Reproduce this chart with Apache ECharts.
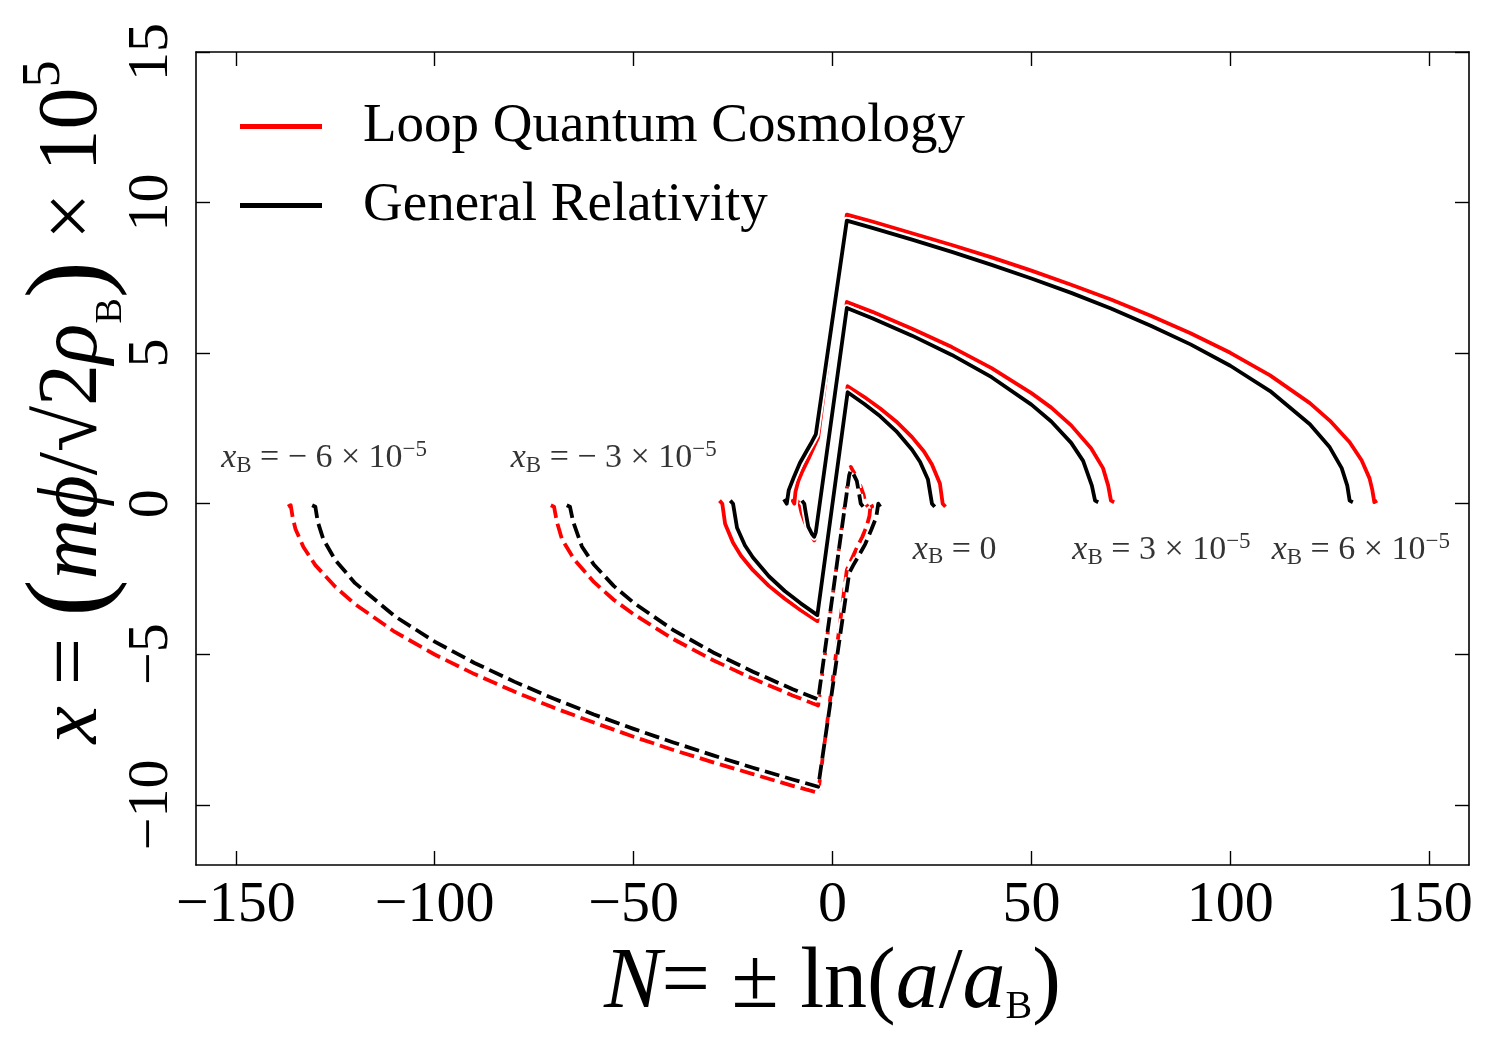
<!DOCTYPE html>
<html>
<head>
<meta charset="utf-8">
<title>LQC vs GR trajectories</title>
<script src="https://cdn.jsdelivr.net/npm/echarts@6/dist/echarts.min.js"></script>
<style>
  html, body { margin: 0; padding: 0; background: #fff; }
  #chart { width: 1500px; height: 1050px; }
</style>
</head>
<body>
<div id="chart"></div>
<script>
// tick values
var xTicks = [-150, -100, -50, 0, 50, 100, 150];
var yTicks = [-10, -5, 0, 5, 10, 15];

// curves, [N, x*1e5]
// xB = -6e-5 (dashed)
var lqcM6 = [[-136.9, -0.1], [-136.2, -0.05], [-135.7, -0.45], [-135, -0.84], [-133, -1.44], [-130, -2.04], [-125, -2.76], [-120, -3.34], [-110, -4.26], [-100, -5.01], [-90, -5.66], [-80, -6.24], [-70, -6.78], [-60, -7.27], [-50, -7.74], [-40, -8.18], [-30, -8.59], [-20, -8.98], [-10, -9.37], [-3.6, -9.6], [3.6, -2.2], [4.8, -1.85], [6, -1.5], [7.5, -1.1], [8.6, -0.75], [9.3, -0.4], [9.6, 0], [10.2, -0.15]];
var grM6 = [[-130.8, -0.05], [-130, -0.1], [-129.4, -0.6], [-128, -1.18], [-125, -1.87], [-120, -2.64], [-110, -3.74], [-100, -4.58], [-90, -5.29], [-80, -5.91], [-70, -6.48], [-60, -7.0], [-50, -7.48], [-40, -7.93], [-30, -8.36], [-20, -8.77], [-10, -9.16], [-3.6, -9.4], [4.2, -2.3], [5.2, -2.05], [6.5, -1.75], [8.2, -1.35], [9.8, -0.85], [11, -0.45], [11.5, 0], [12.2, -0.15]];
// xB = -3e-5 (dashed)
var lqcM3 = [[-70.8, -0.05], [-70, -0.1], [-69.3, -0.6], [-68, -1.18], [-65, -1.84], [-60, -2.6], [-55, -3.19], [-50, -3.67], [-40, -4.5], [-30, -5.2], [-20, -5.81], [-10, -6.37], [-3.6, -6.7], [4.2, 1.1], [4.6, 1.22], [5.2, 1.08], [6, 0.9], [7, 0.6], [7.8, 0.3], [8.3, 0], [8.9, -0.1]];
var grM3 = [[-66.8, -0.05], [-66, -0.1], [-65.2, -0.6], [-63, -1.42], [-60, -2.02], [-55, -2.73], [-50, -3.29], [-40, -4.2], [-30, -4.94], [-20, -5.58], [-10, -6.16], [-3.6, -6.5], [4.2, 0.95], [4.6, 1.1], [5.2, 1.0], [6.1, 0.76], [6.7, 0.32], [7.1, 0], [7.7, -0.1]];
// xB = 0 (solid)
var lqc0 = [[-28.4, 0.1], [-27.7, 0], [-27, -0.67], [-25, -1.3], [-23, -1.73], [-20, -2.21], [-16, -2.73], [-12, -3.16], [-8, -3.54], [-3.8, -3.9], [3.8, 3.9], [8, 3.54], [12, 3.16], [16, 2.73], [20, 2.21], [23, 1.73], [25, 1.3], [27, 0.67], [27.7, 0], [28.4, -0.1]];
var gr0 = [[-25.7, 0.1], [-25, 0], [-24, -0.8], [-22, -1.39], [-20, -1.79], [-16, -2.41], [-12, -2.9], [-8, -3.31], [-3.8, -3.7], [3.8, 3.7], [8, 3.31], [12, 2.9], [16, 2.41], [20, 1.79], [22, 1.39], [24, 0.8], [25, 0], [25.7, -0.1]];
// xB = 3e-5 (solid)
var lqcP3 = [[-8.9, 0.1], [-8.3, 0], [-7.8, -0.3], [-7, -0.6], [-6, -0.9], [-5.2, -1.08], [-4.6, -1.22], [-4.2, -1.1], [3.6, 6.7], [10, 6.37], [20, 5.81], [30, 5.2], [40, 4.5], [50, 3.67], [55, 3.19], [60, 2.6], [65, 1.84], [68, 1.18], [69.3, 0.6], [70, 0.1], [70.8, 0.05]];
var grP3 = [[-7.7, 0.1], [-7.1, 0], [-6.7, -0.32], [-6.1, -0.76], [-5.2, -1.0], [-4.6, -1.1], [-4.2, -0.95], [3.6, 6.5], [10, 6.16], [20, 5.58], [30, 4.94], [40, 4.2], [50, 3.29], [55, 2.73], [60, 2.02], [63, 1.42], [65.2, 0.6], [66, 0.1], [66.8, 0.05]];
// xB = 6e-5 (solid)
var lqcP6 = [[-10.2, 0.15], [-9.6, 0], [-9.3, 0.4], [-8.6, 0.75], [-7.5, 1.1], [-6, 1.5], [-4.8, 1.85], [-3.6, 2.2], [3.6, 9.6], [10, 9.37], [20, 8.98], [30, 8.59], [40, 8.18], [50, 7.74], [60, 7.27], [70, 6.78], [80, 6.24], [90, 5.66], [100, 5.01], [110, 4.26], [120, 3.34], [125, 2.76], [130, 2.04], [133, 1.44], [135, 0.84], [135.7, 0.45], [136.2, 0.05], [136.9, 0.1]];
var grP6 = [[-12.2, 0.15], [-11.5, 0], [-11, 0.45], [-9.8, 0.85], [-8.2, 1.35], [-6.5, 1.75], [-5.2, 2.05], [-4.2, 2.3], [3.6, 9.4], [10, 9.16], [20, 8.77], [30, 8.36], [40, 7.93], [50, 7.48], [60, 7.0], [70, 6.48], [80, 5.91], [90, 5.29], [100, 4.58], [110, 3.74], [120, 2.64], [125, 1.87], [128, 1.18], [129.4, 0.6], [130, 0.1], [130.8, 0.05]];

// annotation labels and where they sit (data coords)
var annotPos = [[-127.8, 1.52], [-55, 1.52], [30.7, -1.54], [82.7, -1.54], [132.8, -1.54]];
var annotText = [
  '{i|x}{s|B} = − 6 × 10{p|−5}',
  '{i|x}{s|B} = − 3 × 10{p|−5}',
  '{i|x}{s|B} = 0',
  '{i|x}{s|B} = 3 × 10{p|−5}',
  '{i|x}{s|B} = 6 × 10{p|−5}'
];

var LQC = 'Loop Quantum Cosmology';
var GR = 'General Relativity';
var FONT = '"Liberation Serif", "DejaVu Serif", serif';
var DASH = [15, 6];

var chart = echarts.init(document.getElementById('chart'));

// each line gets a white halo drawn just before it
function lineSeries(name, data, color, width, dashed) {
  return {
    name: name,
    type: 'line',
    data: data,
    color: color,
    symbol: 'none',
    silent: true,
    animation: false,
    lineStyle: { color: color, width: width, type: dashed ? DASH : 'solid', cap: 'butt', join: 'round' },
    emphasis: { disabled: true }
  };
}

var curves = [
  [lqcM6, grM6, true],
  [lqcM3, grM3, true],
  [lqc0, gr0, false],
  [lqcP3, grP3, false],
  [lqcP6, grP6, false]
];

var series = [];
curves.forEach(function (c) {
  series.push(lineSeries('halo', c[0], '#ffffff', 7.5, c[2]));
  series.push(lineSeries(LQC, c[0], '#ff0000', 3.8, c[2]));
  series.push(lineSeries('halo', c[1], '#ffffff', 7.5, c[2]));
  series.push(lineSeries(GR, c[1], '#000000', 3.8, c[2]));
});

// annotations as label-only scatter
var noStroke = { textBorderWidth: 0, textBorderColor: 'transparent', color: '#000' };
series.push({
  name: 'annot',
  type: 'scatter',
  symbolSize: 0,
  silent: true,
  animation: false,
  data: annotPos.map(function (p, i) { return [p[0], p[1], annotText[i]]; }),
  label: {
    show: true,
    position: 'inside',
    formatter: function (p) { return p.data[2]; },
    color: '#000',
    textBorderWidth: 0,
    textBorderColor: 'transparent',
    fontFamily: FONT,
    fontSize: 34,
    rich: {
      i: Object.assign({ fontFamily: FONT, fontSize: 34, fontStyle: 'italic' }, noStroke),
      s: Object.assign({ fontFamily: FONT, fontSize: 23, verticalAlign: 'bottom', padding: [14, 0, 0, 0] }, noStroke),
      p: Object.assign({ fontFamily: FONT, fontSize: 23, verticalAlign: 'top', padding: [0, 0, 16, 0] }, noStroke)
    }
  }
});

function frameAxis(pos, isY, showLabel) {
  var ticks = isY ? yTicks : xTicks;
  return {
    type: 'value',
    position: pos,
    min: isY ? -12 : -160,
    max: isY ? 15 : 160,
    splitLine: { show: false },
    axisLine: { show: true, onZero: false, lineStyle: { color: '#000', width: 1.6 } },
    axisTick: { show: true, inside: true, length: 14, customValues: ticks, lineStyle: { color: '#000', width: 1.4 } },
    axisLabel: {
      show: showLabel,
      customValues: ticks,
      formatter: function (v) { return String(v).replace('-', '\u2212'); },
      color: '#000',
      fontFamily: FONT,
      fontSize: 58,
      margin: isY ? 15 : 12,
      rotate: isY ? 90 : 0
    }
  };
}

var xBottom = frameAxis('bottom', false, true);
xBottom.name = '{i|N}= ± ln({i|a}/{i|a}{s|B})';
xBottom.nameLocation = 'middle';
xBottom.nameGap = 76;
xBottom.nameTextStyle = {
  color: '#000', fontFamily: FONT, fontSize: 86,
  rich: {
    i: { fontFamily: FONT, fontSize: 86, fontStyle: 'italic', color: '#000' },
    s: { fontFamily: FONT, fontSize: 40, color: '#000', verticalAlign: 'bottom', padding: [36, 0, 0, 0] }
  }
};

var option = {
  backgroundColor: '#fff',
  animation: false,
  grid: { left: 196, right: 31, top: 52, bottom: 185, containLabel: false },
  legend: {
    data: [LQC, GR],
    orient: 'vertical',
    left: 235,
    top: 94,
    icon: 'rect',
    itemWidth: 82,
    itemHeight: 5,
    itemGap: 24,
    selectedMode: false,
    textStyle: { color: '#000', fontFamily: FONT, fontSize: 55, lineHeight: 54, padding: [0, 0, 0, 36] }
  },
  xAxis: [xBottom, frameAxis('top', false, false)],
  yAxis: [frameAxis('left', true, true), frameAxis('right', true, false)],
  series: series,
  graphic: [{
    type: 'text',
    x: 74,
    y: 402,
    rotation: Math.PI / 2,
    silent: true,
    style: {
      text: '{i|x} = {b|(}{i|mϕ}/√{n|2}{i|ρ}{s|B}{b|)} × 10{p|5}',
      fontFamily: FONT,
      fontSize: 84,
      fill: '#000',
      align: 'center',
      verticalAlign: 'middle',
      rich: {
        i: { fontFamily: FONT, fontSize: 84, fontStyle: 'italic', fill: '#000' },
        n: { fontFamily: FONT, fontSize: 84, fill: '#000' },
        b: { fontFamily: FONT, fontSize: 112, fill: '#000' },
        s: { fontFamily: FONT, fontSize: 38, fill: '#000', verticalAlign: 'bottom', padding: [28, 0, 0, 0] },
        p: { fontFamily: FONT, fontSize: 54, fill: '#000', verticalAlign: 'top', padding: [0, 0, 36, 0] }
      }
    }
  }]
};

chart.setOption(option);
</script>
</body>
</html>
